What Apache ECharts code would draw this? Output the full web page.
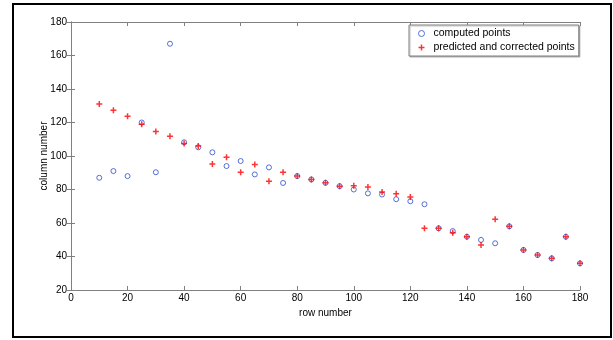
<!DOCTYPE html>
<html>
<head>
<meta charset="utf-8">
<script src="https://cdn.jsdelivr.net/npm/echarts@6/dist/echarts.min.js"></script>
<style>html,body{margin:0;padding:0;background:#fff;}#c{width:613px;height:340px;}</style>
</head>
<body>
<div id="c"></div>
<script>
const rowNumbers = [10,15,20,25,30,35,40,45,50,55,60,65,70,75,80,85,90,95,100,105,110,115,120,125,130,135,140,145,150,155,160,165,170,175,180];
const computedPoints = [87,91,88,120,90.3,167,108.2,105.2,102.2,94,97,89,93.2,83.9,88,86,84,82,80,77.7,77,74.2,73,71.2,56.8,55.2,51.8,49.9,47.9,58,43.9,40.9,38.9,51.8,35.9];
const correctedPoints = [131,127.3,123.7,118.9,114.7,111.8,107.4,106,95.2,99.3,90.3,95,85,90.3,88,86,84,82,82.3,81.5,78.5,77.5,75.5,56.8,56.8,54.2,51.8,46.9,62.2,58,43.9,40.9,38.9,51.8,35.9];
const xTicks = {min: 0, max: 180, interval: 20};
const yTicks = {min: 20, max: 180, interval: 20};

const axisGray = '#808080';
const font = 'Arial, "Liberation Sans", sans-serif';
const plus = 'path://M-1,-4H1V-1H4V1H1V4H-1V1H-4V-1H-1Z';

const chart = echarts.init(document.getElementById('c'), null, {renderer: 'canvas'});
const baseX = {type: 'value', min: xTicks.min, max: xTicks.max, interval: xTicks.interval,
  axisLine: {show: true, lineStyle: {color: axisGray, width: 1}},
  axisTick: {show: true, inside: true, length: 4, lineStyle: {color: axisGray}},
  splitLine: {show: false}};
const baseY = {type: 'value', min: yTicks.min, max: yTicks.max, interval: yTicks.interval,
  axisLine: {show: true, lineStyle: {color: axisGray, width: 1}},
  axisTick: {show: true, inside: true, length: 4, lineStyle: {color: axisGray}},
  splitLine: {show: false}};

chart.setOption({
  animation: false,
  backgroundColor: '#fff',
  grid: {left: 71, right: 33, top: 22, bottom: 50, containLabel: false},
  xAxis: [
    Object.assign({}, baseX, {position: 'bottom', name: 'row number', nameLocation: 'middle', nameGap: 18,
      nameMoveOverlap: false,
      nameTextStyle: {color: '#000', fontSize: 10, fontFamily: font, verticalAlign: 'top'},
      axisLabel: {color: '#000', fontSize: 10, fontFamily: font, margin: 3}}),
    Object.assign({}, baseX, {position: 'top', axisLabel: {show: false}})
  ],
  yAxis: [
    Object.assign({}, baseY, {position: 'left', name: 'column number', nameLocation: 'middle', nameGap: 22,
      nameMoveOverlap: false,
      nameTextStyle: {color: '#000', fontSize: 10, fontFamily: font},
      axisLabel: {color: '#000', fontSize: 10, fontFamily: font, margin: 4}}),
    Object.assign({}, baseY, {position: 'right', axisLabel: {show: false}})
  ],
  legend: {
    orient: 'vertical', left: 409, top: 25, itemGap: 1,
    itemWidth: 6, itemHeight: 6,
    padding: [2, 4, 2, 9],
    backgroundColor: '#fff', borderColor: axisGray, borderWidth: 1,
    shadowColor: 'rgba(0,0,0,0.25)', shadowOffsetX: 1, shadowOffsetY: 1, shadowBlur: 1,
    textStyle: {color: '#000', fontSize: 10.5, fontFamily: font, padding: [0, 0, 0, 4], lineHeight: 13},
    data: [
      {name: 'computed points', icon: 'circle', itemStyle: {color: 'rgba(0,0,0,0)', borderColor: '#2a4fd0', borderWidth: 1}},
      {name: 'predicted and corrected points', icon: plus, itemStyle: {color: '#ff0000'}}
    ]
  },
  graphic: [{type: 'rect', shape: {x: 13, y: 4, width: 598, height: 333},
    style: {fill: 'none', stroke: '#000', lineWidth: 2}, silent: true, z: 100}],
  series: [
    {name: 'computed points', type: 'scatter', xAxisIndex: 0, yAxisIndex: 0,
      symbol: 'circle', symbolSize: 5, clip: false,
      itemStyle: {color: 'rgba(0,0,0,0)', borderColor: '#2a4fd0', borderWidth: 1},
      data: rowNumbers.map((x, i) => [x, computedPoints[i]])},
    {name: 'predicted and corrected points', type: 'scatter', xAxisIndex: 0, yAxisIndex: 0,
      symbol: plus, symbolSize: 6, clip: false,
      itemStyle: {color: '#ff0000'},
      data: rowNumbers.map((x, i) => [x, correctedPoints[i]])}
  ]
});
</script>
</body>
</html>
